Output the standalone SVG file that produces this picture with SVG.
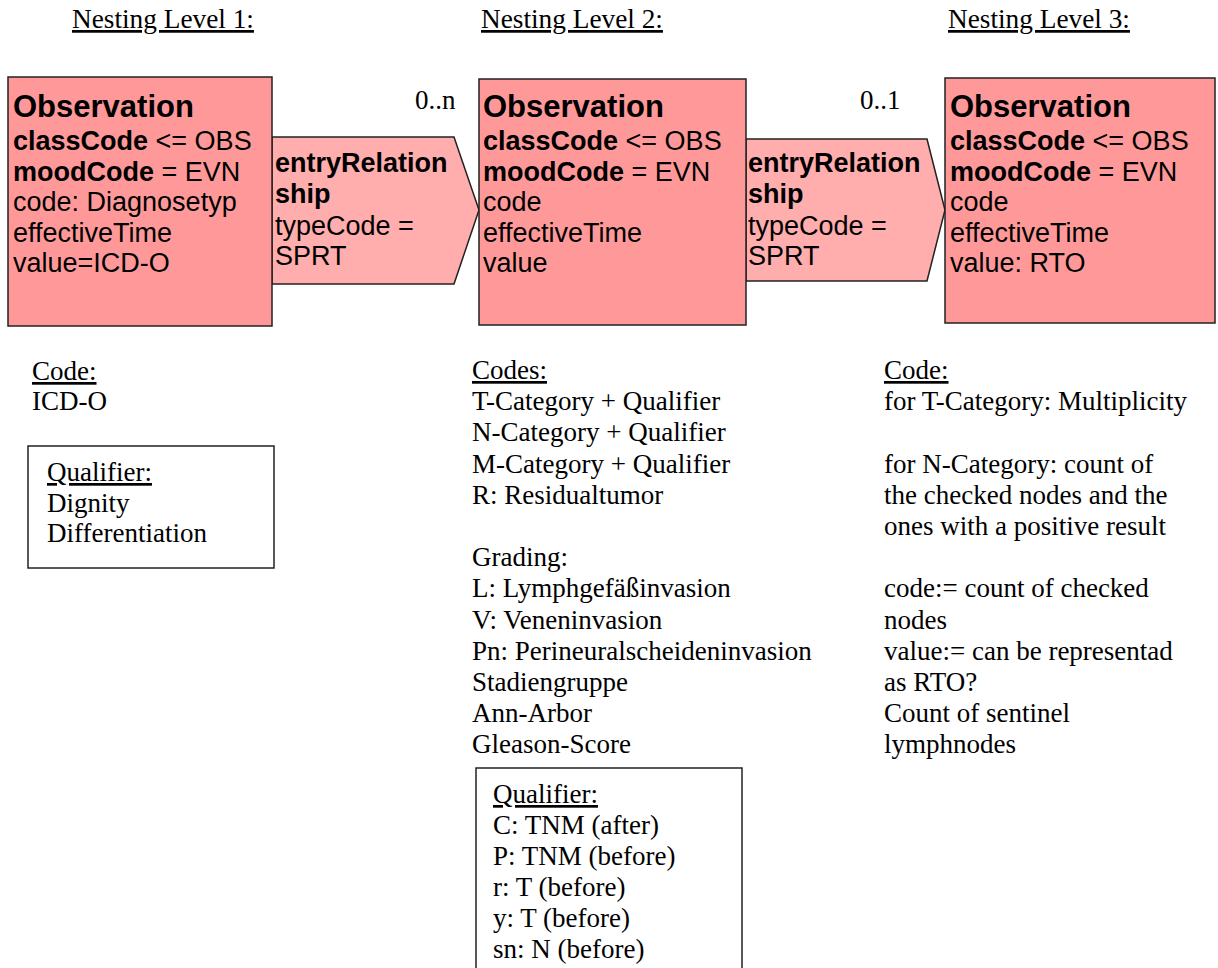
<svg xmlns="http://www.w3.org/2000/svg" width="1218" height="968" viewBox="0 0 1218 968">
<style>
.box{fill:#FF9999;stroke:#222;stroke-width:1.5}
.arr{fill:#FFADAD;stroke:#222;stroke-width:1.5}
.qbox{fill:#fff;stroke:#222;stroke-width:1.5}
.s{font-family:"Liberation Sans",Arial,sans-serif;font-size:27px;fill:#000}
.title{font-family:"Liberation Sans",Arial,sans-serif;font-size:31px;font-weight:bold;fill:#000}
.b{font-weight:bold}
.t{font-family:"Liberation Serif","Times New Roman",serif;font-size:27px;fill:#000}
.h{font-family:"Liberation Serif","Times New Roman",serif;font-size:27.3px;fill:#000;text-decoration:underline}
.u{text-decoration:underline}
</style>
<rect width="1218" height="968" fill="#fff"/>
<g id="headers">
<text class="h" x="72" y="28">Nesting Level 1:</text>
<text class="h" x="481" y="28">Nesting Level 2:</text>
<text class="h" x="948" y="28">Nesting Level 3:</text>
</g>
<g id="connectors">
<g id="rel1">
<polygon class="arr" points="272,137 454,137 479,210 454,284 272,284"/>
<text class="s"><tspan class="b" x="275" y="172">entryRelation</tspan><tspan class="b" x="275" y="203">ship</tspan><tspan x="275" y="235">typeCode =</tspan><tspan x="275" y="265">SPRT</tspan></text>
<text class="t" x="415" y="109">0..n</text>
</g>
<g id="rel2">
<polygon class="arr" points="746,139 927,139 945,210 927,281 746,281"/>
<text class="s"><tspan class="b" x="748" y="172">entryRelation</tspan><tspan class="b" x="748" y="203">ship</tspan><tspan x="748" y="235">typeCode =</tspan><tspan x="748" y="265">SPRT</tspan></text>
<text class="t" x="860" y="109">0..1</text>
</g>
</g>
<g id="obs1">
<rect class="box" x="8" y="77" width="264" height="249"/>
<text class="title" x="13" y="117">Observation</text>
<text class="s"><tspan x="13" y="150"><tspan class="b">classCode</tspan> &lt;= OBS</tspan><tspan x="13" y="181"><tspan class="b">moodCode</tspan> = EVN</tspan><tspan x="13" y="211">code: Diagnosetyp</tspan><tspan x="13" y="242">effectiveTime</tspan><tspan x="13" y="272">value=ICD-O</tspan></text>
</g>
<g id="obs2">
<rect class="box" x="479" y="79" width="267" height="246"/>
<text class="title" x="483" y="117">Observation</text>
<text class="s"><tspan x="483" y="150"><tspan class="b">classCode</tspan> &lt;= OBS</tspan><tspan x="483" y="181"><tspan class="b">moodCode</tspan> = EVN</tspan><tspan x="483" y="211">code</tspan><tspan x="483" y="242">effectiveTime</tspan><tspan x="483" y="272">value</tspan></text>
</g>
<g id="obs3">
<rect class="box" x="945" y="78" width="270" height="245"/>
<text class="title" x="950" y="117">Observation</text>
<text class="s"><tspan x="950" y="150"><tspan class="b">classCode</tspan> &lt;= OBS</tspan><tspan x="950" y="181"><tspan class="b">moodCode</tspan> = EVN</tspan><tspan x="950" y="211">code</tspan><tspan x="950" y="242">effectiveTime</tspan><tspan x="950" y="272">value: RTO</tspan></text>
</g>
<g id="notes1">
<text class="t"><tspan class="u" x="32" y="380">Code:</tspan><tspan x="32" y="410">ICD-O</tspan></text>
</g>
<g id="qualifier1">
<rect class="qbox" x="28" y="446" width="246" height="122"/>
<text class="t"><tspan class="u" x="47" y="481">Qualifier:</tspan><tspan x="47" y="511.5">Dignity</tspan><tspan x="47" y="542">Differentiation</tspan></text>
</g>
<g id="notes2">
<text class="t"><tspan class="u" x="472" y="379">Codes:</tspan><tspan x="472" y="410.2">T-Category + Qualifier</tspan><tspan x="472" y="441.4">N-Category + Qualifier</tspan><tspan x="472" y="472.6">M-Category + Qualifier</tspan><tspan x="472" y="503.8">R: Residualtumor</tspan><tspan x="472" y="566.2">Grading:</tspan><tspan x="472" y="597.4">L: Lymphgefäßinvasion</tspan><tspan x="472" y="628.6">V: Veneninvasion</tspan><tspan x="472" y="659.8">Pn: Perineuralscheideninvasion</tspan><tspan x="472" y="691">Stadiengruppe</tspan><tspan x="472" y="722.2">Ann-Arbor</tspan><tspan x="472" y="753.4">Gleason-Score</tspan></text>
</g>
<g id="qualifier2">
<rect class="qbox" x="476" y="768" width="266" height="210"/>
<text class="t"><tspan class="u" x="493" y="803">Qualifier:</tspan><tspan x="493" y="834">C: TNM (after)</tspan><tspan x="493" y="865">P: TNM (before)</tspan><tspan x="493" y="896">r: T (before)</tspan><tspan x="493" y="927">y: T (before)</tspan><tspan x="493" y="958">sn: N (before)</tspan></text>
</g>
<g id="notes3">
<text class="t"><tspan class="u" x="884" y="379">Code:</tspan><tspan x="884" y="410.2">for T-Category: Multiplicity</tspan><tspan x="884" y="472.6">for N-Category: count of</tspan><tspan x="884" y="503.8">the checked nodes and the</tspan><tspan x="884" y="535">ones with a positive result</tspan><tspan x="884" y="597.4">code:= count of checked</tspan><tspan x="884" y="628.6">nodes</tspan><tspan x="884" y="659.8">value:= can be representad</tspan><tspan x="884" y="691">as RTO?</tspan><tspan x="884" y="722.2">Count of sentinel</tspan><tspan x="884" y="753.4">lymphnodes</tspan></text>
</g>
</svg>
